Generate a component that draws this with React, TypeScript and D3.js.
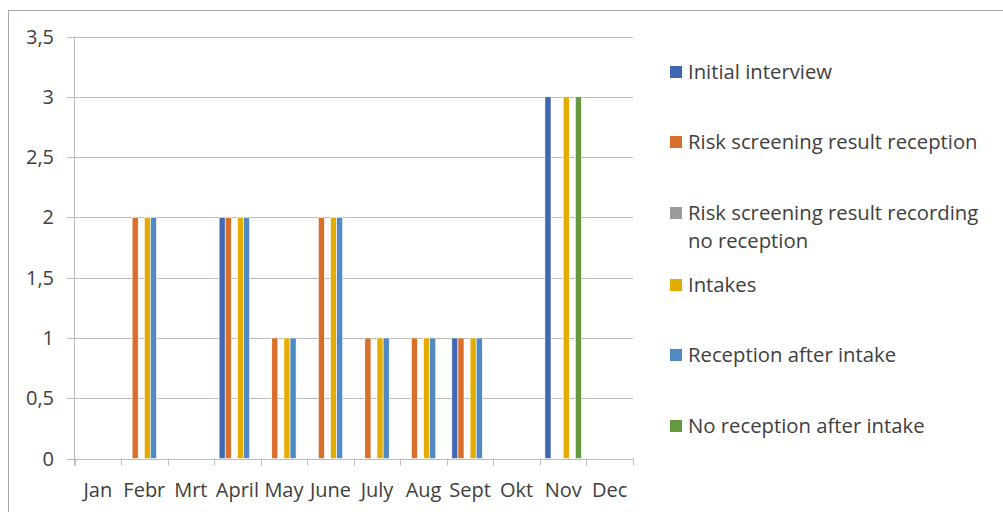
import React from "react";
import * as d3 from "d3";

const months = ["Jan", "Febr", "Mrt", "April", "May", "June", "July", "Aug", "Sept", "Okt", "Nov", "Dec"];
const seriesNames = [
  "Initial interview",
  "Risk screening result reception",
  "Risk screening result recording no reception",
  "Intakes",
  "Reception after intake",
  "No reception after intake",
];
const initialInterview = [0, 0, 0, 2, 0, 0, 0, 0, 1, 0, 3, 0];
const riskReception = [0, 2, 0, 2, 1, 2, 1, 1, 1, 0, 0, 0];
const riskRecordingNoReception = [0, 0, 0, 0, 0, 0, 0, 0, 0, 0, 0, 0];
const intakes = [0, 2, 0, 2, 1, 2, 1, 1, 1, 0, 3, 0];
const receptionAfterIntake = [0, 2, 0, 2, 1, 2, 1, 1, 1, 0, 0, 0];
const noReceptionAfterIntake = [0, 0, 0, 0, 0, 0, 0, 0, 0, 0, 3, 0];
const yTicks = [0, 0.5, 1, 1.5, 2, 2.5, 3, 3.5];

const seriesValues = [
  initialInterview,
  riskReception,
  riskRecordingNoReception,
  intakes,
  receptionAfterIntake,
  noReceptionAfterIntake,
];
const colors = ["#4068B2", "#D8702D", "#9C9C9C", "#E5AC00", "#4F8BC2", "#65993F"];
const legendLines = [
  ["Initial interview"],
  ["Risk screening result reception"],
  ["Risk screening result recording", "no reception"],
  ["Intakes"],
  ["Reception after intake"],
  ["No reception after intake"],
];
const legendY = [72, 142, 213, 285, 355, 426];

const FONT = "'Open Sans', Lato, sans-serif";

export default function App() {
  const W = 1003;
  const H = 512;
  const left = 74.5;
  const right = 633;
  const top = 36.5;
  const bottom = 458.5;

  const x = d3.scaleBand<string>().domain(months).range([left, right]).paddingInner(0).paddingOuter(0);
  const xInner = d3
    .scaleBand<string>()
    .domain(seriesNames)
    .range([0, x.bandwidth()])
    .paddingInner(0)
    .paddingOuter(0.82);
  const y = d3.scaleLinear().domain([0, 3.5]).range([bottom, top]);

  const gridColor = "#BDBDBD";
  const boundaries = d3.range(months.length + 1).map((i) => left + i * x.step());

  return (
    <svg
      width={W}
      height={H}
      style={{ position: "absolute", left: 0, top: 0, background: "#fff" }}
      fontFamily={FONT}
    >
      <rect x={8.5} y={10.5} width={W + 20} height={H + 20} fill="#fff" stroke="#A6A6A6" strokeWidth={1} />
      {yTicks.map((t) => (
        <line key={t} x1={67} x2={right} y1={Math.round(y(t)) + 0.5} y2={Math.round(y(t)) + 0.5} stroke={gridColor} strokeWidth={1} />
      ))}
      <line x1={left} x2={left} y1={top} y2={bottom + 7} stroke={gridColor} strokeWidth={1} />
      {boundaries.map((b, i) => (
        <line key={i} x1={Math.round(b) + 0.5} x2={Math.round(b) + 0.5} y1={bottom} y2={bottom + 7} stroke={gridColor} strokeWidth={1} />
      ))}
      {yTicks.map((t) => (
        <text key={t} x={54} y={y(t)} dy="0.35em" textAnchor="end" fontSize={20} fill="#404040">
          {String(t).replace(".", ",")}
        </text>
      ))}
      {months.map((m) => (
        <text key={m} x={(x(m) ?? 0) + x.bandwidth() / 2} y={497} textAnchor="middle" fontSize={20} fill="#404040">
          {m}
        </text>
      ))}
      {seriesValues.map((vals, si) =>
        vals.map((v, mi) =>
          v > 0 ? (
            <rect
              key={`${si}-${mi}`}
              x={(x(months[mi]) ?? 0) + (xInner(seriesNames[si]) ?? 0)}
              y={y(v)}
              width={xInner.bandwidth()}
              height={y(0) - y(v)}
              fill={colors[si]}
              stroke="#fff"
              strokeWidth={0.6}
            />
          ) : null
        )
      )}
      {legendLines.map((lines, i) => (
        <g key={i}>
          <rect x={670} y={legendY[i] - 6} width={12} height={12} fill={colors[i]} />
          {lines.map((ln, j) => (
            <text key={j} x={688} y={legendY[i] + j * 28} dy="0.35em" fontSize={20.3} fill="#404040">
              {ln}
            </text>
          ))}
        </g>
      ))}
    </svg>
  );
}
